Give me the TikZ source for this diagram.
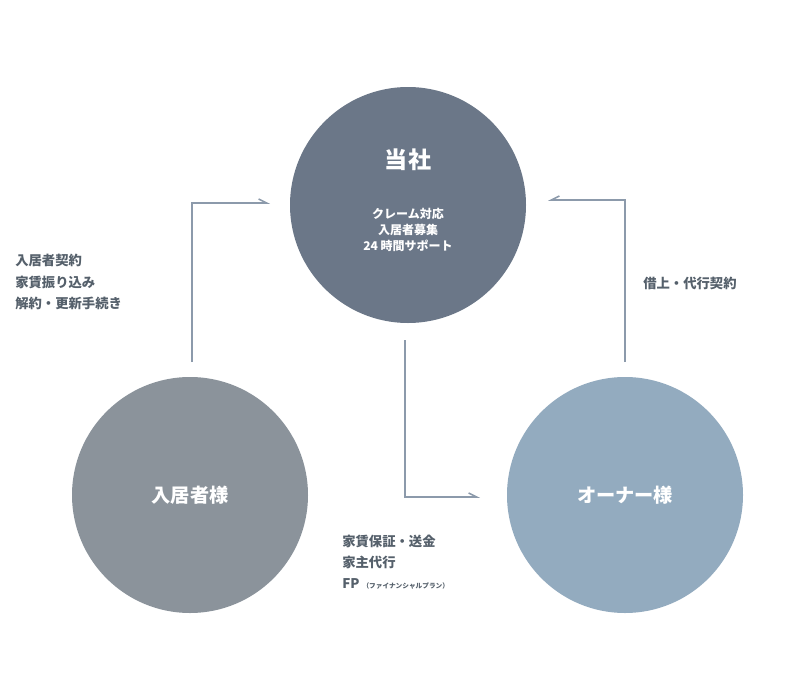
\documentclass[tikz,border=0pt]{standalone}
\usepackage{fontspec}
\setmainfont{Noto Sans CJK JP}
\usetikzlibrary{arrows.meta,positioning}
\definecolor{HQ}{HTML}{6B7788}
\definecolor{Tenant}{HTML}{8B939B}
\definecolor{Owner}{HTML}{93ABBF}
\definecolor{LineGray}{HTML}{8C9AAB}
\definecolor{TextGray}{HTML}{55606B}

\begin{document}
\begin{tikzpicture}[
		x=0.75pt, y=-0.75pt,
		every node/.style={font=\bfseries},
		party/.style = {circle, minimum size=177pt, inner sep=0pt,
			text=white, font=\bfseries\Large},
		flow/.style = {LineGray, line width=1.2pt,
			-{Straight Barb[left,length=6pt,width=6pt]}},
		flowr/.style = {LineGray, line width=1.2pt,
			-{Straight Barb[right,length=6pt,width=6pt]}},
		note/.style = {anchor=west, text=TextGray, font=\bfseries\normalsize,
			align=left, inner sep=0pt},
	]
	\useasboundingbox (0,0) rectangle (800,700);
	% three parties
	\node[party, fill=HQ] (hq) at (408,205) {};
	\node[white, font=\bfseries\LARGE] at (408,160) {当社};
	\node[white, font=\bfseries\small, align=center] at (408,230)
		{クレーム対応\\[1pt]入居者募集\\[1pt]24 時間サポート};
	\node[party, fill=Tenant] (tenant) at (190,495) {入居者様};
	\node[party, fill=Owner] (owner) at (625,495) {オーナー様};
	% connector points
	\coordinate (t1) at (192,362);
	\coordinate (t2) at (270,203);
	\coordinate (o1) at (625,362);
	\coordinate (o2) at (548,200);
	\coordinate (h1) at (405,340);
	\coordinate (h2) at (480,497);
	\draw[flow] (t1) |- (t2);
	\draw[flowr] (o1) |- (o2);
	\draw[flow] (h1) |- (h2);
	% labels
	\node[note] (ln) at (15,282) {入居者契約\\[4pt]家賃振り込み\\[4pt]解約・更新手続き};
	\node[note] (rn) at (643,283) {借上・代行契約};
	\node[note] (bn) at (342,562) {家賃保証・送金\\[4pt]家主代行\\[4pt]FP {\tiny（ファイナンシャルプラン）}};
\end{tikzpicture}
\end{document}
